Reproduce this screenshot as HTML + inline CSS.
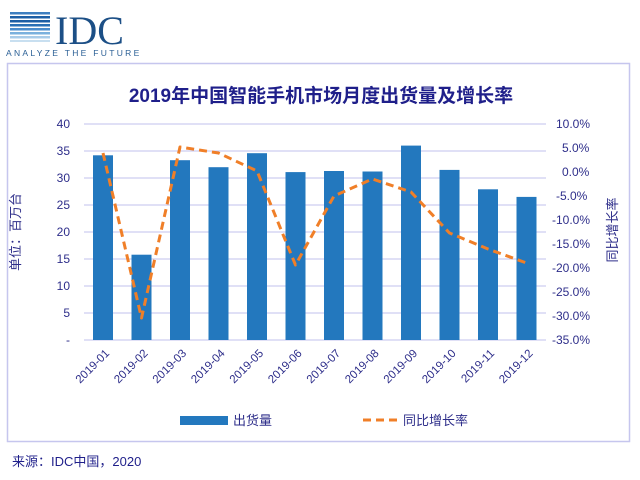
<!DOCTYPE html>
<html><head><meta charset="utf-8"><style>
body{margin:0;background:#fff;}
svg{display:block;font-family:"Liberation Sans","Noto Sans CJK SC",sans-serif;}
</style></head><body>
<svg width="640" height="480" viewBox="0 0 640 480">
<g>
<rect x="10" y="12" width="40" height="2.5" fill="#3d7fc0"/>
<rect x="10" y="16" width="40" height="2.5" fill="#1d5fa5"/>
<rect x="10" y="20" width="40" height="2.5" fill="#1d5fa5"/>
<rect x="10" y="24" width="40" height="2.5" fill="#2a70b5"/>
<rect x="10" y="28" width="40" height="2.5" fill="#4a8ccc"/>
<rect x="10" y="32" width="40" height="2.5" fill="#7ab0dd"/>
<rect x="10" y="36" width="40" height="2.5" fill="#a8cbe8"/>
<rect x="10" y="40" width="40" height="2" fill="#c8dff0"/>
</g>
<text x="55" y="44" font-family="Liberation Serif,serif" font-size="40" fill="#1c4f86">IDC</text>
<text x="6" y="56" font-size="8.5" letter-spacing="2.3" fill="#2a5f95">ANALYZE THE FUTURE</text>
<rect x="7.5" y="63.5" width="622" height="378" fill="none" stroke="#c6c6ee" stroke-width="1.5"/>
<text x="321" y="102" text-anchor="middle" font-size="19" font-weight="bold" fill="#1f1f8a">2019年中国智能手机市场月度出货量及增长率</text>
<g stroke="#c2c2ec" stroke-width="1">
<line x1="84" x2="546" y1="124" y2="124"/><line x1="84" x2="546" y1="151" y2="151"/>
<line x1="84" x2="546" y1="178" y2="178"/><line x1="84" x2="546" y1="205" y2="205"/>
<line x1="84" x2="546" y1="232" y2="232"/><line x1="84" x2="546" y1="259" y2="259"/>
<line x1="84" x2="546" y1="286" y2="286"/><line x1="84" x2="546" y1="313" y2="313"/>
<line x1="84" x2="546" y1="340" y2="340"/>
</g>
<g font-size="12" fill="#2e2e8a" text-anchor="end">
<text x="70" y="128">40</text><text x="70" y="155">35</text><text x="70" y="182">30</text>
<text x="70" y="209">25</text><text x="70" y="236">20</text><text x="70" y="263">15</text>
<text x="70" y="290">10</text><text x="70" y="317">5</text><text x="70" y="344">-</text>
</g>
<g font-size="12" fill="#2e2e8a" text-anchor="start">
<text x="556" y="128">10.0%</text><text x="562" y="152">5.0%</text><text x="562" y="176">0.0%</text>
<text x="556" y="200">-5.0%</text><text x="552" y="224">-10.0%</text><text x="552" y="248">-15.0%</text>
<text x="552" y="272">-20.0%</text><text x="552" y="296">-25.0%</text><text x="552" y="320">-30.0%</text>
<text x="552" y="344">-35.0%</text>
</g>
<text transform="translate(20,232) rotate(-90)" text-anchor="middle" font-size="13" fill="#2e2e8a">单位：百万台</text>
<text transform="translate(617,230) rotate(-90)" text-anchor="middle" font-size="13" fill="#2e2e8a">同比增长率</text>
<g fill="#2378be">
<rect x="93" y="155.3" width="20" height="184.7"/>
<rect x="131.5" y="254.7" width="20" height="85.3"/>
<rect x="170" y="160.2" width="20" height="179.8"/>
<rect x="208.5" y="167.2" width="20" height="172.8"/>
<rect x="247" y="153.2" width="20" height="186.8"/>
<rect x="285.5" y="172.1" width="20" height="167.9"/>
<rect x="324" y="171" width="20" height="169"/>
<rect x="362.5" y="171.5" width="20" height="168.5"/>
<rect x="401" y="145.6" width="20" height="194.4"/>
<rect x="439.5" y="169.9" width="20" height="170.1"/>
<rect x="478" y="189.3" width="20" height="150.7"/>
<rect x="516.5" y="196.9" width="20" height="143.1"/>
</g>
<polyline fill="none" stroke="#f07f28" stroke-width="3" stroke-dasharray="8,5" stroke-linejoin="round"
points="103,153 141.5,318 180,147 218.5,153 257,171 295.5,265 334,196 372.5,179 411,192 449.5,233 488,249 526.5,263"/>
<g font-size="11.5" fill="#2e2e8a" text-anchor="end">
<text transform="translate(110,354) rotate(-45)">2019-01</text>
<text transform="translate(148.5,354) rotate(-45)">2019-02</text>
<text transform="translate(187,354) rotate(-45)">2019-03</text>
<text transform="translate(225.5,354) rotate(-45)">2019-04</text>
<text transform="translate(264,354) rotate(-45)">2019-05</text>
<text transform="translate(302.5,354) rotate(-45)">2019-06</text>
<text transform="translate(341,354) rotate(-45)">2019-07</text>
<text transform="translate(379.5,354) rotate(-45)">2019-08</text>
<text transform="translate(418,354) rotate(-45)">2019-09</text>
<text transform="translate(456.5,354) rotate(-45)">2019-10</text>
<text transform="translate(495,354) rotate(-45)">2019-11</text>
<text transform="translate(533.5,354) rotate(-45)">2019-12</text>
</g>
<rect x="180" y="416" width="48" height="9" fill="#2378be"/>
<text x="233" y="425" font-size="13" fill="#2e2e8a">出货量</text>
<line x1="363" x2="399" y1="420" y2="420" stroke="#f07f28" stroke-width="3" stroke-dasharray="8,5"/>
<text x="403" y="425" font-size="13" fill="#2e2e8a">同比增长率</text>
<text x="12" y="466" font-size="13" fill="#1f1f8a">来源：IDC中国，2020</text>
</svg>
</body></html>
